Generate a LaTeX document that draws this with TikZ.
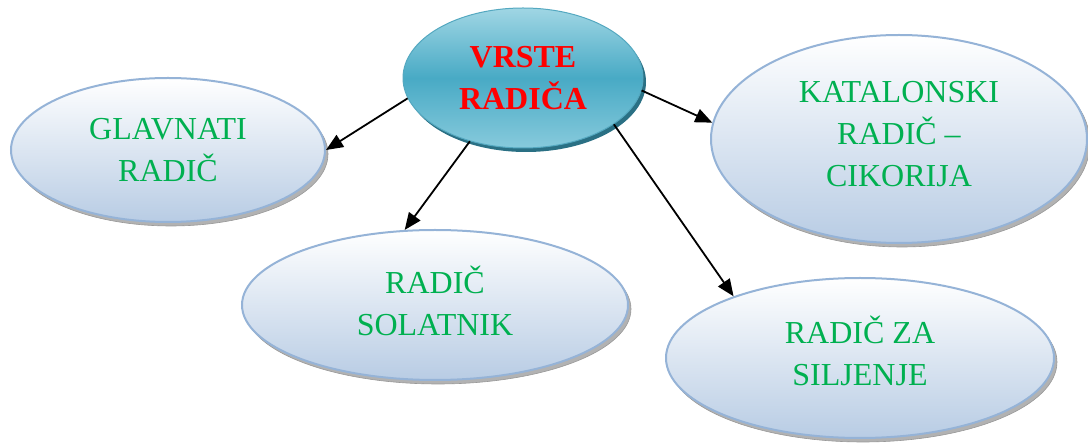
\documentclass[tikz,border=0pt]{standalone}
\usepackage{fontspec}
\setmainfont{Liberation Serif}
\usetikzlibrary{shapes.geometric,arrows.meta,shadows}

\definecolor{kindfill}{RGB}{184,204,228}
\definecolor{kindline}{RGB}{149,179,215}
\definecolor{kindtext}{RGB}{0,176,80}
\definecolor{hubtop}{RGB}{160,214,228}
\definecolor{hubmid}{RGB}{72,170,197}
\definecolor{hubbot}{RGB}{135,202,220}
\definecolor{hubline}{RGB}{84,168,192}
\definecolor{hubshadow}{RGB}{42,112,132}

\tikzset{
  kind/.style={ellipse, draw=kindline, line width=2pt,
    top color=white, bottom color=kindfill,
    inner sep=0pt, align=center, text=kindtext,
    font=\fontsize{32}{42}\selectfont,
    general shadow={fill=gray!60, draw=gray!80, line width=0.6pt,
      shadow xshift=3pt, shadow yshift=-4pt}},
  hub/.style={ellipse, draw=hubline, line width=1pt,
    top color=hubtop, bottom color=hubbot, middle color=hubmid,
    inner sep=0pt, align=center, text=red,
    font=\fontsize{32}{42}\selectfont\bfseries,
    general shadow={fill=hubshadow, shadow xshift=3pt, shadow yshift=-4pt}},
  link/.style={-{Triangle[length=17pt,width=14pt]}, line width=1.8pt, black}
}

\begin{document}
\begin{tikzpicture}[x=1pt,y=-1pt]
  \useasboundingbox (0,0) rectangle (1088,443);

  % outer kinds
  \node[kind, minimum width=314pt, minimum height=144pt] (g) at (168,150) {GLAVNATI\\RADIČ};
  \node[kind, minimum width=386pt, minimum height=150pt, text depth=8pt] (s) at (435,305) {RADIČ\\SOLATNIK};
  \node[kind, minimum width=376pt, minimum height=208pt, text depth=10pt] (k) at (899,139) {KATALONSKI\\RADIČ –\\CIKORIJA};
  \node[kind, minimum width=388pt, minimum height=160pt, text depth=14pt] (z) at (860,358) {RADIČ ZA\\SILJENJE};

  % central topic
  \node[hub, minimum width=240pt, minimum height=140pt] (c) at (523,78) {VRSTE\\RADIČA};

  % connectors
  \draw[link] (c.190) -- (g.east);
  \draw[link] (c.230) -- (s.112);
  \draw[link] (c.354) -- (k.175);
  \draw[link] (c.333) -- (z.154);
\end{tikzpicture}
\end{document}
